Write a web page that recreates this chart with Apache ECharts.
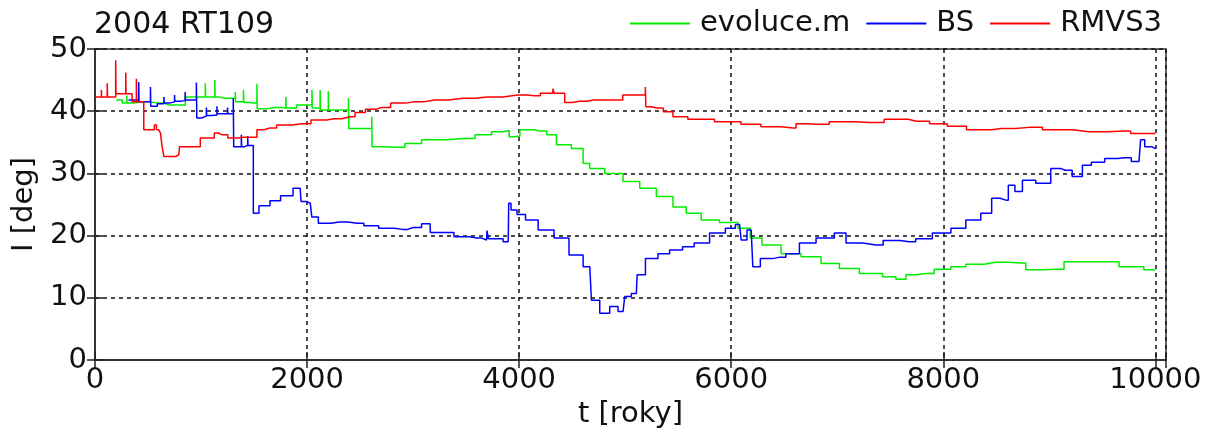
<!DOCTYPE html>
<html>
<head>
  <meta charset="UTF-8"/>
  <title>2004 RT109</title>
  <script src="https://cdn.jsdelivr.net/npm/echarts@6/dist/echarts.min.js"></script>
  <style>
    html, body { margin: 0; padding: 0; background: #fff; }
    #main { width: 1215px; height: 443px; }
  </style>
</head>
<body>
<div id="main"></div>
<script type="text/javascript">
    // t [roky], I [deg] - polylines, repeated t = vertical jump
    const seriesNames = ['evoluce.m', 'BS', 'RMVS3'];
    const xTicks = [0, 2000, 4000, 6000, 8000, 10000];
    const yTicks = [0, 10, 20, 30, 40, 50];

    const evoluce = [
        [200, 41.8], [256, 41.8], [256, 41.3], [300, 41.3], [300, 42.5], [303, 42.5], [303, 41.3],
        [428, 41.5], [600, 41.3], [700, 41.0], [852, 41.0], [852, 42.3], [1040, 42.3], [1040, 44.5],
        [1043, 44.5], [1043, 42.3], [1130, 42.3], [1130, 45.0], [1133, 45.0], [1133, 42.3], [1210, 42.1],
        [1323, 42.1], [1323, 43.1], [1326, 43.1], [1326, 41.5], [1400, 41.5], [1400, 43.4], [1403, 43.4],
        [1403, 41.4], [1493, 41.3], [1527, 41.3], [1527, 44.4], [1530, 44.4], [1530, 40.4], [1700, 40.6],
        [1800, 40.5], [1800, 42.3], [1803, 42.3], [1803, 40.5], [1998, 41.0], [2046, 41.0], [2046, 43.4],
        [2049, 43.4], [2049, 40.5], [2123, 40.5], [2123, 43.4], [2126, 43.4], [2126, 40.2], [2200, 40.2],
        [2200, 43.2], [2203, 43.2], [2203, 40.2], [2390, 40.2], [2390, 42.1], [2393, 42.1], [2393, 37.2],
        [2610, 37.2], [2610, 39.1], [2613, 39.1], [2613, 34.3], [2845, 34.2], [3000, 34.8], [3160, 35.4],
        [3473, 35.6], [3693, 36.2], [3787, 36.7], [3906, 36.9], [3906, 35.9], [4007, 36.0], [4007, 37.0],
        [4070, 37.0], [4200, 36.8], [4320, 36.2], [4383, 34.6], [4603, 34.0], [4603, 31.6], [4729, 30.8],
        [4885, 30.0], [5074, 28.7], [5200, 27.6], [5388, 26.3], [5513, 24.6], [5638, 23.6], [5795, 22.5],
        [5984, 22.1], [6141, 21.2], [6219, 19.6], [6360, 18.5], [6580, 17.1], [6737, 16.6], [6957, 15.5],
        [7083, 14.7], [7333, 13.9], [7522, 13.4], [7585, 13.0], [7648, 13.0], [7648, 13.7], [7836, 13.9],
        [7993, 14.6], [8150, 15.0], [8275, 15.4], [8495, 15.7], [8731, 15.6], [8825, 14.5], [9060, 14.6],
        [9217, 15.8], [9531, 15.8], [9782, 15.0], [10000, 14.5]
    ];

    const bs = [
        [315, 41.8], [412, 41.8], [412, 44.7], [415, 44.7], [415, 41.5], [523, 41.5], [523, 43.9],
        [526, 43.9], [526, 40.8], [650, 41.2], [650, 42.3], [653, 42.3], [653, 41.3], [750, 41.5],
        [750, 42.6], [753, 42.6], [753, 41.6], [850, 41.7], [850, 43.1], [853, 43.1], [853, 41.8],
        [956, 41.8], [956, 44.6], [960, 44.6], [960, 38.9], [1050, 39.2], [1050, 40.6], [1053, 40.6],
        [1053, 39.3], [1150, 39.4], [1150, 40.8], [1153, 40.8], [1153, 39.6], [1250, 39.6], [1250, 40.6],
        [1253, 40.6], [1253, 39.6], [1304, 39.6], [1304, 42.1], [1308, 42.1], [1308, 34.3], [1380, 34.3],
        [1380, 36.2], [1383, 36.2], [1383, 34.3], [1440, 34.5], [1440, 36.0], [1443, 36.0], [1443, 34.5],
        [1493, 34.5], [1493, 23.6], [1600, 24.8], [1700, 25.6], [1800, 26.4], [1935, 27.6], [1951, 25.5],
        [2030, 25.2], [2059, 23.0], [2153, 22.0], [2300, 22.2], [2470, 22.0], [2600, 21.6], [2750, 21.2],
        [2900, 21.0], [3000, 21.3], [3160, 21.9], [3165, 20.5], [3300, 20.5], [3470, 19.8], [3600, 19.6],
        [3693, 19.3], [3700, 20.8], [3720, 19.5], [3800, 19.5], [3897, 19.0], [3906, 25.2], [3940, 24.1],
        [4020, 23.4], [4100, 22.5], [4258, 20.9], [4400, 19.6], [4540, 16.9], [4666, 15.0], [4697, 9.6],
        [4823, 7.5], [4885, 8.6], [4980, 7.8], [5011, 10.2], [5105, 10.7], [5120, 13.7], [5262, 16.3],
        [5356, 17.1], [5482, 17.7], [5600, 18.2], [5701, 18.8], [5890, 20.4], [6000, 21.2], [6078, 21.8],
        [6109, 19.3], [6188, 20.9], [6219, 15.0], [6330, 16.3], [6450, 16.5], [6580, 17.1], [6706, 18.8],
        [6894, 19.6], [7051, 20.4], [7114, 18.8], [7365, 18.5], [7500, 19.2], [7679, 19.0], [7800, 19.5],
        [7993, 20.4], [8150, 21.2], [8275, 22.5], [8432, 23.6], [8480, 26.0], [8590, 25.7], [8636, 28.1],
        [8715, 27.1], [8777, 28.9], [8966, 28.4], [9060, 30.8], [9150, 30.5], [9280, 29.5], [9343, 31.3],
        [9450, 31.8], [9593, 32.4], [9700, 32.5], [9845, 31.9], [9876, 35.4], [9923, 34.3], [10000, 34.0]
    ];

    const rmvs3 = [
        [0, 42.3], [60, 42.3], [60, 43.4], [62, 43.4], [62, 42.3], [115, 42.3], [115, 44.5], [118, 44.5],
        [118, 42.3], [195, 42.3], [195, 48.2], [198, 48.2], [198, 42.8], [290, 42.8], [290, 46.2],
        [293, 46.2], [293, 42.8], [350, 42.8], [350, 41.5], [390, 41.5], [390, 45.2], [393, 45.2],
        [393, 41.5], [460, 41.5], [460, 37.0], [560, 37.0], [560, 37.8], [600, 37.0], [633, 36.5],
        [633, 34.3], [650, 34.3], [650, 32.7], [760, 32.7], [790, 33.0], [805, 34.3], [993, 34.3],
        [993, 35.7], [1125, 35.7], [1125, 36.5], [1200, 36.2], [1304, 35.7], [1400, 35.8], [1527, 35.8],
        [1527, 37.0], [1650, 37.3], [1776, 37.8], [1950, 38.0], [2123, 38.6], [2250, 38.8], [2405, 39.1],
        [2500, 39.8], [2600, 40.3], [2700, 40.6], [2876, 41.3], [3000, 41.5], [3200, 41.8], [3470, 42.1],
        [3700, 42.3], [3988, 42.6], [4150, 42.5], [4250, 42.9], [4318, 42.9], [4318, 43.6], [4330, 43.6],
        [4330, 42.9], [4430, 42.9], [4430, 41.4], [4572, 41.6], [4700, 41.8], [4977, 41.8], [4977, 42.6],
        [5190, 42.6], [5190, 43.9], [5195, 43.9], [5195, 40.7], [5300, 40.5], [5419, 39.9], [5482, 39.1],
        [5700, 38.7], [5984, 38.3], [6200, 37.9], [6360, 37.5], [6580, 37.3], [6643, 38.0], [6800, 37.9],
        [7050, 38.3], [7300, 38.2], [7585, 38.7], [7750, 38.4], [7990, 38.0], [8085, 37.6], [8354, 37.0],
        [8550, 37.2], [8809, 37.4], [9060, 37.0], [9374, 36.7], [9719, 36.8], [9814, 36.4], [10000, 36.4]
    ];

    const font = 'DejaVu Sans';
    const colors = ['#00ee00', '#0000ff', '#ff0000'];

    let myChart = echarts.init(document.getElementById('main'));

    // shared look of the inner ticks / frame
    const frameLine = {show: true, lineStyle: {color: '#333', width: 1.5}};
    const innerTick = {show: true, inside: true, length: 8, lineStyle: {color: '#222', width: 1.5}};
    const gridDash = {show: true, lineStyle: {color: '#111', width: 1.5, type: [4, 4]}};

    let option = {
        animation: false,
        backgroundColor: '#fff',
        title: {
            text: '2004 RT109',
            left: 89,
            top: 5,
            textStyle: {fontFamily: font, fontSize: 30, fontWeight: 'normal', color: '#111'}
        },
        legend: {
            data: seriesNames,
            right: 48,
            top: 4,
            icon: 'rect',
            itemWidth: 60,
            itemHeight: 2,
            itemGap: 16,
            textStyle: {fontFamily: font, fontSize: 29, color: '#111', padding: [0, 0, 0, 5]}
        },
        grid: {left: 95, right: 49, top: 49, bottom: 83, show: true, borderColor: '#333', borderWidth: 1.5},
        xAxis: [{
            type: 'value',
            min: 0,
            max: 10100,
            interval: 2000,
            name: 't [roky]',
            nameLocation: 'middle',
            nameGap: 38,
            nameTextStyle: {fontFamily: font, fontSize: 29, color: '#111'},
            axisLine: frameLine,
            axisTick: innerTick,
            splitLine: gridDash,
            axisLabel: {
                fontFamily: font, fontSize: 29, color: '#111', margin: 6,
                formatter: v => xTicks.indexOf(v) >= 0 ? String(v) : ''
            }
        }, {
            type: 'value',
            position: 'top',
            min: 0,
            max: 10100,
            interval: 2000,
            axisLine: frameLine,
            axisTick: innerTick,
            splitLine: {show: false},
            axisLabel: {show: false}
        }],
        yAxis: [{
            type: 'value',
            min: 0,
            max: 50,
            interval: 10,
            name: 'I [deg]',
            nameLocation: 'middle',
            nameGap: 52,
            nameTextStyle: {fontFamily: font, fontSize: 29, color: '#111'},
            axisLine: frameLine,
            axisTick: innerTick,
            splitLine: gridDash,
            axisLabel: {
                fontFamily: font, fontSize: 29, color: '#111', margin: 8,
                formatter: v => yTicks.indexOf(v) >= 0 ? String(v) : ''
            }
        }, {
            type: 'value',
            position: 'right',
            min: 0,
            max: 50,
            interval: 10,
            axisLine: frameLine,
            axisTick: innerTick,
            splitLine: {show: false},
            axisLabel: {show: false}
        }],
        series: [
            {name: seriesNames[0], type: 'line', step: 'middle', data: evoluce, symbol: 'none', color: colors[0], lineStyle: {width: 1.5}},
            {name: seriesNames[1], type: 'line', step: 'middle', data: bs, symbol: 'none', color: colors[1], lineStyle: {width: 1.5}},
            {name: seriesNames[2], type: 'line', step: 'middle', data: rmvs3, symbol: 'none', color: colors[2], lineStyle: {width: 1.5}}
        ]
    };
    myChart.setOption(option);
</script>
</body>
</html>
